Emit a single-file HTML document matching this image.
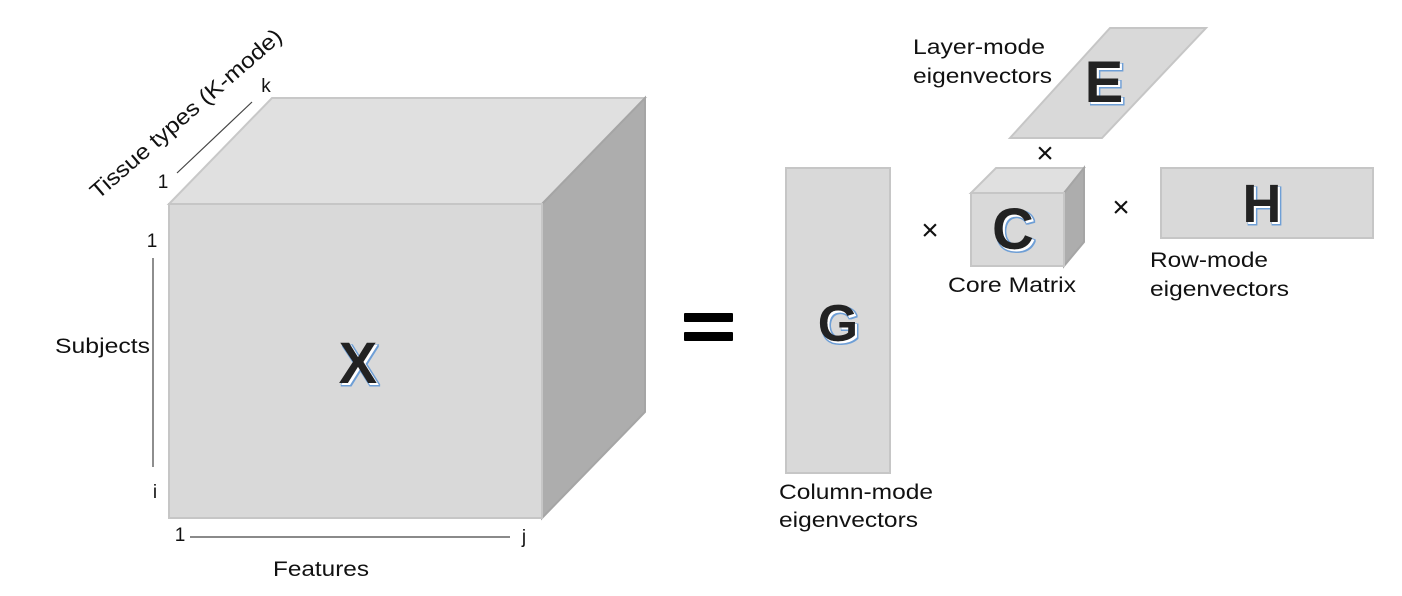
<!DOCTYPE html>
<html><head><meta charset="utf-8"><style>
html,body{margin:0;padding:0;background:#fff;}
svg{display:block;}
text{font-family:"Liberation Sans",Arial,sans-serif;fill:#111;}
.big{font-weight:bold;fill:#222;}
</style></head><body>
<svg width="1402" height="596" viewBox="0 0 1402 596" xmlns="http://www.w3.org/2000/svg">
<defs>
<filter id="sh" x="-20%" y="-20%" width="150%" height="150%">
<feMorphology in="SourceAlpha" operator="dilate" radius="1" result="d"/>
<feOffset in="d" dx="2.5" dy="2.5" result="o"/>
<feFlood flood-color="#6e9fd6"/><feComposite in2="o" operator="in" result="b"/>
<feOffset in="SourceAlpha" dx="2" dy="2" result="o2"/>
<feFlood flood-color="#ffffff"/><feComposite in2="o2" operator="in" result="w"/>
<feMerge><feMergeNode in="b"/><feMergeNode in="w"/><feMergeNode in="SourceGraphic"/></feMerge>
</filter>
</defs>
<!-- big cube -->
<polygon points="169,204 272,98 645,98 542,204" fill="#e0e0e0" stroke="#c8c8c8" stroke-width="2"/>
<polygon points="542,204 645,98 645,412 542,518" fill="#adadad" stroke="#a5a5a5" stroke-width="2"/>
<rect x="169" y="204" width="373" height="314" fill="#d9d9d9" stroke="#c6c6c6" stroke-width="2"/>
<text x="358" y="383" font-size="58" text-anchor="middle" class="big" filter="url(#sh)">X</text>
<!-- axes -->
<line x1="153" y1="258" x2="153" y2="467" stroke="#444" stroke-width="1.2"/>
<text x="152" y="247" font-size="19" text-anchor="middle">1</text>
<text x="155" y="498" font-size="19" text-anchor="middle">i</text>
<text x="55" y="353" font-size="21" textLength="95" lengthAdjust="spacingAndGlyphs">Subjects</text>
<line x1="190" y1="537" x2="510" y2="537" stroke="#444" stroke-width="1.2"/>
<text x="180" y="541" font-size="19" text-anchor="middle">1</text>
<text x="524" y="543" font-size="19" text-anchor="middle">j</text>
<text x="273" y="576" font-size="21" textLength="96" lengthAdjust="spacingAndGlyphs">Features</text>
<line x1="177" y1="173" x2="252" y2="102" stroke="#444" stroke-width="1.2"/>
<text x="163" y="188" font-size="19" text-anchor="middle">1</text>
<text x="266" y="92" font-size="19" text-anchor="middle">k</text>
<text x="0" y="0" font-size="22" transform="translate(98,200) rotate(-41)" textLength="246" lengthAdjust="spacingAndGlyphs">Tissue types (K-mode)</text>
<!-- equals -->
<rect x="684" y="313" width="49" height="9" fill="#000" rx="1"/>
<rect x="684" y="332" width="49" height="9" fill="#000" rx="1"/>
<!-- G -->
<rect x="786" y="168" width="104" height="305" fill="#d9d9d9" stroke="#c6c6c6" stroke-width="2"/>
<text x="838" y="341" font-size="52" text-anchor="middle" class="big" filter="url(#sh)">G</text>
<text x="779" y="499" font-size="21" textLength="154" lengthAdjust="spacingAndGlyphs">Column-mode</text>
<text x="779" y="527" font-size="21" textLength="139" lengthAdjust="spacingAndGlyphs">eigenvectors</text>
<!-- times -->
<text x="930" y="240" font-size="30" text-anchor="middle">×</text>
<text x="1045" y="163" font-size="30" text-anchor="middle">×</text>
<text x="1121" y="217" font-size="30" text-anchor="middle">×</text>
<!-- C cube -->
<polygon points="971,193 996,168 1084,168 1064,193" fill="#e0e0e0" stroke="#c6c6c6" stroke-width="2"/>
<polygon points="1064,193 1084,168 1084,242 1064,266" fill="#adadad" stroke="#a5a5a5" stroke-width="2"/>
<rect x="971" y="193" width="93" height="73" fill="#d9d9d9" stroke="#c6c6c6" stroke-width="2"/>
<text x="1013" y="249" font-size="58" text-anchor="middle" class="big" filter="url(#sh)">C</text>
<text x="948" y="292" font-size="21" textLength="128" lengthAdjust="spacingAndGlyphs">Core Matrix</text>
<!-- E -->
<polygon points="1110,28 1206,28 1102,138 1010,138" fill="#d9d9d9" stroke="#c6c6c6" stroke-width="2"/>
<text x="1104" y="102" font-size="58" text-anchor="middle" class="big" filter="url(#sh)">E</text>
<text x="913" y="54" font-size="21" textLength="132" lengthAdjust="spacingAndGlyphs">Layer-mode</text>
<text x="913" y="83" font-size="21" textLength="139" lengthAdjust="spacingAndGlyphs">eigenvectors</text>
<!-- H -->
<rect x="1161" y="168" width="212" height="70" fill="#d9d9d9" stroke="#c6c6c6" stroke-width="2"/>
<text x="1262" y="222" font-size="54" text-anchor="middle" class="big" filter="url(#sh)">H</text>
<text x="1150" y="267" font-size="21" textLength="118" lengthAdjust="spacingAndGlyphs">Row-mode</text>
<text x="1150" y="296" font-size="21" textLength="139" lengthAdjust="spacingAndGlyphs">eigenvectors</text>
</svg>
</body></html>
